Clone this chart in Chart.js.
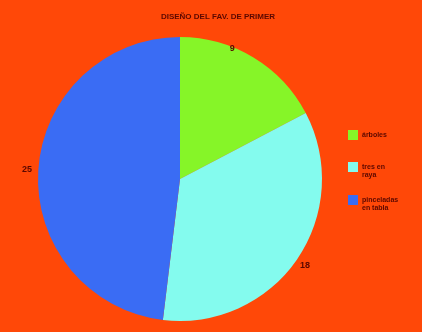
<!DOCTYPE html>
<html>
<head>
<meta charset="utf-8">
<script src="https://cdn.jsdelivr.net/npm/chart.js@4/dist/chart.umd.min.js"></script>
<style>
  html, body { margin: 0; padding: 0; background: #ff4808; }
  #wrap { width: 422px; height: 332px; }
</style>
</head>
<body>
<div id="wrap"><canvas id="c" width="422" height="332"></canvas></div>
<script>
const chartTitle = 'DISEÑO DEL FAV. DE PRIMER';
const categories = ['árboles', 'tres en raya', 'pinceladas en tabla'];
const legendLines = [['árboles'], ['tres en', 'raya'], ['pinceladas', 'en tabla']];
const values = [9, 18, 25];
const sliceColors = ['#86f528', '#84fbee', '#3a6cf4'];
const textColor = '#5a0800';

// Title, value labels and a side legend drawn straight onto the canvas
const decorations = {
  id: 'decorations',
  afterDraw(chart) {
    const ctx = chart.ctx;
    ctx.save();
    ctx.fillStyle = textColor;
    ctx.textAlign = 'center';
    ctx.textBaseline = 'middle';
    ctx.font = 'bold 8px "Liberation Sans", Arial, sans-serif';
    ctx.fillText(chartTitle, 218, 17);

    // value labels placed from each arc's own geometry
    const meta = chart.getDatasetMeta(0);
    const place = [{f: 0.35, r: 0.99}, {f: 0.5, r: 1.07}, {f: 0.5, r: 1.08}];
    ctx.font = 'bold 9px "Liberation Sans", Arial, sans-serif';
    meta.data.forEach((arc, i) => {
      const p = arc.getProps(['x', 'y', 'startAngle', 'endAngle', 'outerRadius'], true);
      const a = p.startAngle + (p.endAngle - p.startAngle) * place[i].f;
      const r = p.outerRadius * place[i].r;
      ctx.fillText(String(values[i]), p.x + Math.cos(a) * r, p.y + Math.sin(a) * r);
    });

    // legend
    const lx = 348, ys = [135, 167, 200];
    ctx.textAlign = 'left';
    ctx.font = 'bold 7px "Liberation Sans", Arial, sans-serif';
    categories.forEach((name, i) => {
      ctx.fillStyle = sliceColors[i];
      ctx.fillRect(lx, ys[i] - 5, 10, 10);
      ctx.fillStyle = textColor;
      legendLines[i].forEach((line, k) => {
        ctx.fillText(line, lx + 14, ys[i] + k * 8);
      });
    });
    ctx.restore();
  }
};

new Chart(document.getElementById('c'), {
  type: 'pie',
  data: {
    labels: categories,
    datasets: [{
      data: values,
      backgroundColor: sliceColors,
      borderWidth: 0
    }]
  },
  options: {
    responsive: false,
    animation: false,
    layout: { padding: { left: 38, right: 100, top: 37, bottom: 11 } },
    plugins: {
      legend: { display: false },
      title: { display: false },
      tooltip: { enabled: false }
    }
  },
  plugins: [decorations]
});
</script>
</body>
</html>
